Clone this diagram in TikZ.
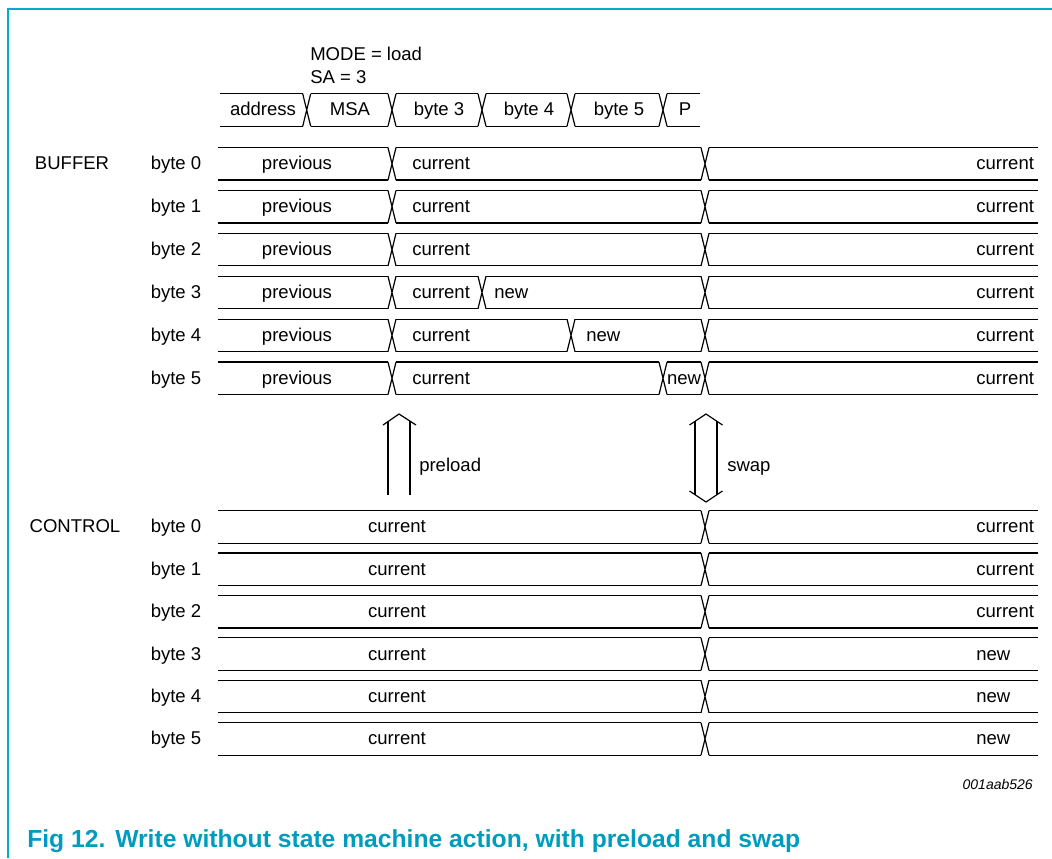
\documentclass[tikz,border=0pt]{standalone}
\usepackage{fontspec}
\setmainfont{Liberation Sans}
\definecolor{framec}{RGB}{0,172,200}
\definecolor{capc}{RGB}{0,156,190}
\tikzset{
  sig/.style={line width=0.9pt},
  arr/.style={line width=0.9pt, line join=miter},
  txt/.style={inner sep=0pt, anchor=base, font=\fontsize{13.9pt}{16pt}\selectfont},
  txtl/.style={txt, anchor=base west},
}
% #1 centre y, #2 start x, #3 end x, #4 list of transitions
\newcommand\sigrow[4]{%
  \draw[sig] (#2,#1-16.25) -- (#3,#1-16.25) (#2,#1+16.25) -- (#3,#1+16.25);
  \foreach \xx in {#4} {
    \fill[white] (\xx-4,#1-17.5) rectangle (\xx+4,#1+17.5);
    \draw[sig] (\xx-4,#1-16.25) -- (\xx+4,#1+16.25) (\xx-4,#1+16.25) -- (\xx+4,#1-16.25);
  }%
}
\begin{document}
\begin{tikzpicture}[x=0.75pt,y=-0.75pt]
\useasboundingbox (0,0) rectangle (1052,858);
\draw[framec, line width=1pt] (1052,9) -- (8,9) -- (8,858);

% header
\node[txtl] (mode) at (310,60.7) {MODE = load};
\node[txtl] (sa) at (310,83.3) {SA = 3};

% bus
\sigrow{110}{220}{700}{306.7,392,482,571,663}
\node[txt] (bA) at (263,115.5) {address};
\node[txt] (bM) at (350,115.5) {MSA};
\node[txt] (b3) at (439,115.5) {byte 3};
\node[txt] (b4) at (529,115.5) {byte 4};
\node[txt] (b5) at (619,115.5) {byte 5};
\node[txt] (bP) at (685,115.5) {P};

% BUFFER
\node[txt] (buffer) at (72,169.8) {BUFFER};
\sigrow{163.8}{218}{1038}{392,705}
\sigrow{206.7}{218}{1038}{392,705}
\sigrow{249.6}{218}{1038}{392,705}
\sigrow{292.5}{218}{1038}{392,482,705}
\sigrow{335.4}{218}{1038}{392,571,705}
\sigrow{378.3}{218}{1038}{392,663,705}
\foreach \k in {0,...,5} {
  \pgfmathsetmacro\cy{163.8+42.9*\k+6}
  \node[txt] (blab\k) at (176,\cy) {byte \k};
  \node[txt] (bprev\k) at (297,\cy) {previous};
  \node[txtl] (bcur\k) at (412,\cy) {current};
  \node[txtl] (bright\k) at (976,\cy) {current};
}
\node[txtl] (bnew3) at (494,298.5) {new};
\node[txtl] (bnew4) at (586,341.4) {new};
\node[txt] (bnew5) at (684,384.3) {new};

% preload arrow
\draw[arr] (383,425) -- (399,414) -- (416,425);
\draw[arr] (388,495) -- (388,421.6);
\draw[arr] (410,495) -- (410,421.1);
\node[txtl] (preload) at (419,471) {preload};

% swap arrow
\draw[arr] (689.5,425) -- (706,414) -- (722.5,425);
\draw[arr] (689.5,491) -- (706,502) -- (722.5,491);
\draw[arr] (695,421.3) -- (695,494.7);
\draw[arr] (717,421.3) -- (717,494.7);
\node[txtl] (swap) at (727,471) {swap};

% CONTROL
\node[txt] (control) at (75,532.9) {CONTROL};
\sigrow{526.9}{218}{1038}{705}
\sigrow{569.3}{218}{1038}{705}
\sigrow{611.7}{218}{1038}{705}
\sigrow{654.1}{218}{1038}{705}
\sigrow{696.5}{218}{1038}{705}
\sigrow{738.9}{218}{1038}{705}
\foreach \k/\v in {0/current,1/current,2/current,3/new,4/new,5/new} {
  \pgfmathsetmacro\cy{526.9+42.4*\k+6}
  \node[txt] (clab\k) at (176,\cy) {byte \k};
  \node[txt] (ccur\k) at (397,\cy) {current};
  \node[txtl] (cright\k) at (976,\cy) {\v};
}

\node[inner sep=0pt, anchor=base east, font=\fontsize{10.5pt}{12pt}\selectfont\itshape] (code) at (1033,789) {001aab526};
\node[inner sep=0pt, anchor=base west, text=capc, font=\fontsize{18.5pt}{21pt}\selectfont\bfseries] (caption) at (27,847) {Fig 12.\hspace{0.4em}Write without state machine action, with preload and swap};
\end{tikzpicture}
\end{document}
